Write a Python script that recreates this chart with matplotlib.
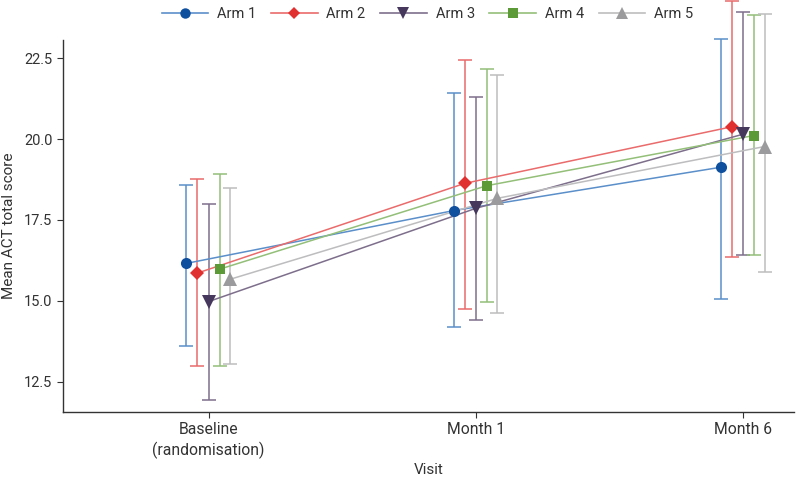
import matplotlib
matplotlib.use("Agg")
import matplotlib.pyplot as plt
import numpy as np

plt.rcParams['font.family'] = ['Roboto', 'DejaVu Sans']

visits = ["Baseline\n(randomisation)", "Month 1", "Month 6"]
arms = ["Arm 1", "Arm 2", "Arm 3", "Arm 4", "Arm 5"]

arm1_mean = [16.16, 17.79, 19.13]
arm1_low = [13.62, 14.18, 15.05]
arm1_high = [18.58, 21.42, 23.10]

arm2_mean = [15.86, 18.63, 20.38]
arm2_low = [13.00, 14.76, 16.36]
arm2_high = [18.76, 22.44, 24.26]

arm3_mean = [14.98, 17.86, 20.15]
arm3_low = [11.94, 14.41, 16.42]
arm3_high = [18.00, 21.30, 23.94]

arm4_mean = [15.98, 18.56, 20.11]
arm4_low = [13.00, 14.98, 16.42]
arm4_high = [18.92, 22.15, 23.83]

arm5_mean = [15.67, 18.17, 19.77]
arm5_low = [13.06, 14.64, 15.90]
arm5_high = [18.48, 21.99, 23.85]

means = [arm1_mean, arm2_mean, arm3_mean, arm4_mean, arm5_mean]
lows = [arm1_low, arm2_low, arm3_low, arm4_low, arm5_low]
highs = [arm1_high, arm2_high, arm3_high, arm4_high, arm5_high]

marker_colors = ["#0e4f9e", "#e0302f", "#45385c", "#5b9a36", "#9b9b9d"]
line_colors = ["#5b8fca", "#ea6b6b", "#7d6f8c", "#93bf78", "#bdbdbf"]
markers = ["o", "D", "v", "s", "^"]
msizes = [8, 7, 9.5, 7.5, 9.5]
offsets = [-0.083, -0.042, 0.0, 0.041, 0.081]

fig = plt.figure(figsize=(7.99, 4.82), dpi=100)
ax = fig.add_axes([0.0785, 0.146, 0.915, 0.771])

x = np.arange(len(visits))
for i in range(5):
    xi = x + offsets[i]
    m = np.array(means[i])
    lo = m - np.array(lows[i])
    hi = np.array(highs[i]) - m
    eb = ax.errorbar(xi, m, yerr=[lo, hi], fmt='none', ecolor=line_colors[i],
                     elinewidth=1.1, capsize=5, capthick=1.1, zorder=2)
    for art in list(eb.lines[1]) + list(eb.lines[2]):
        art.set_clip_on(False)
    ax.plot(xi, m, color=line_colors[i], lw=1.1, zorder=3, clip_on=False)
    ax.plot(xi, m, linestyle='none', marker=markers[i], markersize=msizes[i],
            color=marker_colors[i], markeredgewidth=0, zorder=4, clip_on=False)

handles = []
for i in range(5):
    h, = ax.plot([], [], color=line_colors[i], lw=1.2, marker=markers[i],
                 markersize=msizes[i] - 0.5, markerfacecolor=marker_colors[i],
                 markeredgewidth=0)
    handles.append(h)
fig.legend(handles, arms, loc='upper center', bbox_to_anchor=(0.535, 1.012),
           ncol=5, frameon=False, fontsize=10.5, handlelength=3.2,
           columnspacing=1.0, handletextpad=0.6, labelcolor='#333333')

ax.set_xlim(-0.546, 2.19)
ax.set_ylim(11.58, 23.06)
ax.set_xticks(x)
ax.set_xticklabels(visits, linespacing=1.35)
ax.set_yticks([12.5, 15.0, 17.5, 20.0, 22.5])
ax.set_yticklabels(["12.5", "15.0", "17.5", "20.0", "22.5"])
ax.spines['top'].set_visible(False)
ax.spines['right'].set_visible(False)
for s in ['left', 'bottom']:
    ax.spines[s].set_color('#333333')
    ax.spines[s].set_linewidth(1.0)
ax.tick_params(axis='both', colors='#333333', labelsize=10.5, length=4, width=0.8)
ax.tick_params(axis='x', labelsize=11.3)
ax.set_xlabel("Visit", fontsize=11, color='#333333', labelpad=3)
ax.set_ylabel("Mean ACT total score", fontsize=11, color='#333333', labelpad=6)

fig.savefig("out.png", dpi=100)
